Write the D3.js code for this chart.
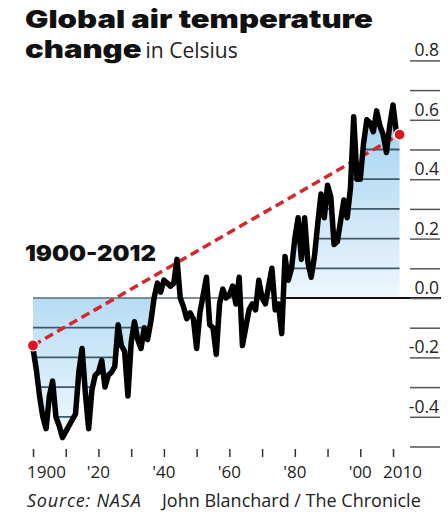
<!DOCTYPE html>
<html>
<head>
<meta charset="utf-8">
<script src="https://cdn.jsdelivr.net/npm/d3@7"></script>
<style>
body { margin: 0; background: #fff; }
text { font-family: "Open Sans", sans-serif; fill: #222; }
.head { font-family: Inter, "Open Sans", sans-serif; font-weight: 900; fill: #111; }
</style>
</head>
<body>
<div id="chart"></div>
<script>
var width = 448;
var height = 512;

// yearly anomaly 1900-2012
var firstYear = 1900;
var anomaly = [
  -0.17, -0.24, -0.33, -0.40, -0.44, -0.33, -0.28, -0.40, -0.43, -0.47,   // 1900s
  -0.45, -0.43, -0.41, -0.39, -0.25, -0.17, -0.32, -0.44, -0.31, -0.26,   // 1910s
  -0.25, -0.21, -0.30, -0.26, -0.25, -0.23, -0.09, -0.16, -0.18, -0.33,   // 1920s
  -0.15, -0.08, -0.14, -0.17, -0.10, -0.14, -0.08,  0.00,  0.05,  0.02,   // 1930s
   0.06,  0.05,  0.04,  0.05,  0.13,  0.00, -0.03, -0.07, -0.05, -0.07,   // 1940s
  -0.17, -0.05,  0.01,  0.07, -0.09, -0.10, -0.19, -0.02,  0.03,  0.00,   // 1950s
   0.01,  0.04, -0.02,  0.07, -0.16, -0.10, -0.04, -0.02, -0.04,  0.06,   // 1960s
   0.00, -0.02,  0.04,  0.10, -0.04, -0.02, -0.12,  0.14,  0.06,  0.10,   // 1970s
   0.20,  0.27,  0.13,  0.27,  0.12,  0.07,  0.14,  0.25,  0.35,  0.27,   // 1980s
   0.38,  0.34,  0.18,  0.19,  0.26,  0.33,  0.27,  0.37,  0.61,  0.40,   // 1990s
   0.40,  0.52,  0.60,  0.59,  0.56,  0.63,  0.58,  0.55,  0.49,  0.58,   // 2000s
   0.65,  0.56,  0.55                                                     // 2010-2012
];

var trendYears = [1900, 2012];
var trendValues = [-0.16, 0.55];

var yTickValues = [-0.5, -0.4, -0.3, -0.2, -0.1, 0, 0.1, 0.2, 0.3, 0.4, 0.5, 0.6, 0.7, 0.8];
var yLabelValues = [-0.4, -0.2, 0, 0.2, 0.4, 0.6, 0.8];
var yLabelTexts = ["-0.4", "-0.2", "0.0", "0.2", "0.4", "0.6", "0.8"];

var xTickYears = [1900, 1910, 1920, 1930, 1940, 1950, 1960, 1970, 1980, 1990, 2000, 2010];
var xLabelYears = [1900, 1920, 1940, 1960, 1980, 2000, 2010];
var xLabelTexts = ["1900", "'20", "'40", "'60", "'80", "'00", "2010"];

// years covered by the blue shading on each side
var leftFillYears = [1900, 1937];
var rightFillYears = [1976, 2012];

var data = anomaly.map(function(v, i) { return {year: firstYear + i, value: v}; });

var xScale = d3.scaleLinear().domain([1900, 2010]).range([33, 393]);
var yScale = d3.scaleLinear().domain([0, 0.8]).range([298, 60.4]);

var svg = d3.select("#chart")
    .append("svg")
    .attr("width", width)
    .attr("height", height)
    .style("display", "block");

var defs = svg.append("defs");

function addGradient(id, topVal, botVal, topColor, botColor) {
    var g = defs.append("linearGradient")
        .attr("id", id)
        .attr("gradientUnits", "userSpaceOnUse")
        .attr("x1", 0).attr("x2", 0)
        .attr("y1", yScale(topVal)).attr("y2", yScale(botVal));
    g.append("stop").attr("offset", "0%").attr("stop-color", topColor);
    g.append("stop").attr("offset", "100%").attr("stop-color", botColor);
}
addGradient("gradLeft", 0, -0.5, "#b6dcf4", "#f4fafe");
addGradient("gradRight", 0.55, 0, "#acd6f2", "#eef7fd");

var leftData = data.filter(function(d) { return d.year >= leftFillYears[0] && d.year <= leftFillYears[1]; });
var rightData = data.filter(function(d) { return d.year >= rightFillYears[0] && d.year <= rightFillYears[1]; });

var areaLeft = d3.area()
    .x(function(d) { return xScale(d.year); })
    .y0(yScale(0))
    .y1(function(d) { return yScale(Math.min(0, d.value)); });

var areaRight = d3.area()
    .x(function(d) { return xScale(d.year); })
    .y0(yScale(0))
    .y1(function(d) { return yScale(Math.max(0, d.value)); });

// clip so the grid lines only show inside the shading
var clip = defs.append("clipPath").attr("id", "fillClip");
clip.append("path").attr("d", areaLeft(leftData));
clip.append("path").attr("d", areaRight(rightData));

svg.append("path").attr("d", areaLeft(leftData)).attr("fill", "url(#gradLeft)");
svg.append("path").attr("d", areaRight(rightData)).attr("fill", "url(#gradRight)");

svg.append("g")
    .attr("clip-path", "url(#fillClip)")
    .selectAll("line")
    .data(yTickValues.filter(function(v) { return v !== 0; }))
    .enter()
    .append("line")
    .attr("x1", xScale(1900))
    .attr("x2", xScale(2012) + 4)
    .attr("y1", function(d) { return yScale(d); })
    .attr("y2", function(d) { return yScale(d); })
    .attr("stroke", "#3f5868")
    .attr("stroke-width", 1.8);

// zero line: grey on the left, black on the right
svg.append("line")
    .attr("x1", xScale(1900)).attr("x2", xScale(rightFillYears[0]) + 4)
    .attr("y1", yScale(0)).attr("y2", yScale(0))
    .attr("stroke", "#5a6a74").attr("stroke-width", 1.5);
svg.append("line")
    .attr("x1", xScale(rightFillYears[0]) + 4).attr("x2", 441)
    .attr("y1", yScale(0)).attr("y2", yScale(0))
    .attr("stroke", "#111").attr("stroke-width", 1.8);

// right axis: short ticks every 0.1, labels on the even ones
var yAxis = d3.axisRight(yScale)
    .tickValues(yTickValues)
    .tickSize(30)
    .tickFormat("");

svg.append("g")
    .attr("class", "y axis")
    .attr("transform", "translate(410,0)")
    .call(yAxis)
    .call(function(g) { g.select(".domain").remove(); })
    .selectAll(".tick line")
    .attr("stroke", "#555")
    .attr("stroke-width", 1.5);

svg.append("g")
    .selectAll("text")
    .data(yLabelValues)
    .enter()
    .append("text")
    .attr("x", 439)
    .attr("y", function(d) { return yScale(d) - 4; })
    .attr("text-anchor", "end")
    .style("font-size", "17.5px")
    .text(function(d, i) { return yLabelTexts[i]; });

// bottom ticks
var xAxis = d3.axisBottom(xScale)
    .tickValues(xTickYears)
    .tickSize(8)
    .tickFormat("");

svg.append("g")
    .attr("class", "x axis")
    .attr("transform", "translate(0,449)")
    .call(xAxis)
    .call(function(g) { g.select(".domain").remove(); })
    .selectAll(".tick line")
    .attr("stroke", "#333")
    .attr("stroke-width", 1.5);

svg.append("g")
    .selectAll("text")
    .data(xLabelYears)
    .enter()
    .append("text")
    .attr("x", function(d) {
        if (d === 1900) return xScale(d) - 6;
        if (d === 2010) return xScale(d) - 10;
        return xScale(d);
    })
    .attr("y", 478)
    .attr("text-anchor", function(d) { return (d === 1900 || d === 2010) ? "start" : "middle"; })
    .style("font-size", "17px")
    .text(function(d, i) { return xLabelTexts[i]; });

// trend line 1900-2012
svg.append("line")
    .attr("x1", xScale(trendYears[0])).attr("y1", yScale(trendValues[0]))
    .attr("x2", xScale(trendYears[1])).attr("y2", yScale(trendValues[1]))
    .attr("stroke", "#d4282c")
    .attr("stroke-width", 3.5)
    .attr("stroke-dasharray", "9,5");

var line = d3.line()
    .x(function(d) { return xScale(d.year); })
    .y(function(d) { return yScale(d.value); });

svg.append("path")
    .datum(data)
    .attr("d", line)
    .attr("fill", "none")
    .attr("stroke", "#000")
    .attr("stroke-width", 5.5)
    .attr("stroke-linejoin", "round")
    .attr("stroke-linecap", "round");

svg.selectAll(".dot")
    .data(trendYears)
    .enter()
    .append("circle")
    .attr("class", "dot")
    .attr("cx", function(d) { return xScale(d); })
    .attr("cy", function(d, i) { return yScale(trendValues[i]); })
    .attr("r", 5.5)
    .attr("fill", "#e0141e")
    .attr("stroke", "#fff")
    .attr("stroke-width", 1.2);

// heavy heading text, stretched sideways to the width it has in the print
function wideText(str, x, y, size) {
    var t = svg.append("text")
        .attr("class", "head")
        .attr("x", 0).attr("y", 0)
        .style("font-size", size + "px")
        .text(str);
    var w = t.node().getComputedTextLength();
    return {node: t, w: w, place: function(s) {
        t.attr("transform", "translate(" + x + "," + y + ") scale(" + s + ",1)");
    }};
}

var title1 = wideText("Global air temperature", 25, 28, 25);
var headScale = 348 / title1.w;
title1.place(headScale);

var title2 = wideText("change", 25, 58, 25);
title2.place(headScale);

svg.append("text")
    .attr("x", 25 + title2.w * headScale + 4)
    .attr("y", 58)
    .style("font-size", "21px")
    .text("in Celsius");

var period = wideText("1900-2012", 25, 261, 21);
period.place(131 / period.w);

var src = svg.append("text")
    .attr("x", 27).attr("y", 507)
    .style("font-size", "18px");
src.append("tspan")
    .style("font-style", "italic")
    .style("letter-spacing", "0.8px")
    .text("Source: NASA");
src.append("tspan")
    .attr("x", 162)
    .text("John Blanchard / The Chronicle");
</script>
</body>
</html>
